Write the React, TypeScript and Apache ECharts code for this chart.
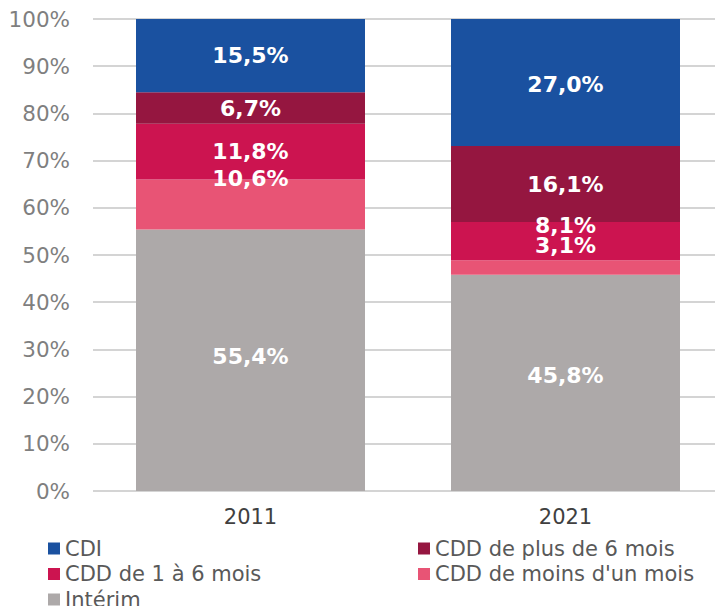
import React, { useEffect, useRef } from "react";
import * as echarts from "echarts";

const categories = ["2011", "2021"];
const seriesNames = [
  "Intérim",
  "CDD de moins d'un mois",
  "CDD de 1 à 6 mois",
  "CDD de plus de 6 mois",
  "CDI",
];
const interim = [55.4, 45.8];
const cddMoinsUnMois = [10.6, 3.1];
const cdd1a6 = [11.8, 8.1];
const cddPlus6 = [6.7, 16.1];
const cdi = [15.5, 27.0];
const yTicks = [0, 10, 20, 30, 40, 50, 60, 70, 80, 90, 100];
const legendCol1 = ["CDI", "CDD de 1 à 6 mois", "Intérim"];
const legendCol2 = ["CDD de plus de 6 mois", "CDD de moins d'un mois"];

const seriesValues = [interim, cddMoinsUnMois, cdd1a6, cddPlus6, cdi];
const colors = ["#ADA9A9", "#E85475", "#CC1450", "#951640", "#1A51A0"];
// label vertical offsets (px) per series, per category
const labelOffsets = [
  [-4, -7],
  [-26, -22],
  [0, -16],
  [1, 1],
  [0, 2],
];

const FONT = "DejaVu Sans";

const legendBase = {
  orient: "vertical",
  top: 538,
  height: 90,
  padding: 0,
  icon: "rect",
  itemWidth: 12,
  itemHeight: 12,
  itemGap: 4.5,
  textStyle: {
    color: "#595959",
    fontFamily: FONT,
    fontSize: 21,
    lineHeight: 18,
  },
};

export default function App() {
  const ref = useRef<HTMLDivElement>(null);
  useEffect(() => {
    const chart = echarts.init(ref.current!, undefined, { renderer: "svg" });
    const series = seriesNames.map((name, si) => ({
      name,
      type: "bar",
      stack: "total",
      barWidth: 229,
      itemStyle: { color: colors[si] },
      data: seriesValues[si].map((v, ci) => ({
        value: v,
        label: { offset: [0, labelOffsets[si][ci]] },
      })),
      label: {
        show: true,
        position: "inside",
        color: "#ffffff",
        fontWeight: "bold",
        fontFamily: FONT,
        fontSize: 22,
        formatter: (p: any) => p.value.toFixed(1).replace(".", ",") + "%",
      },
    }));
    chart.setOption({
      animation: false,
      backgroundColor: "#ffffff",
      grid: { left: 93, right: 0, top: 19, bottom: 123, containLabel: false },
      xAxis: {
        type: "category",
        data: categories,
        axisLine: { show: false },
        axisTick: { show: false },
        axisLabel: {
          color: "#404040",
          fontFamily: FONT,
          fontSize: 21,
          margin: 15,
        },
      },
      yAxis: {
        type: "value",
        min: 0,
        max: 100,
        interval: 10,
        axisLine: { show: false },
        axisTick: { show: false },
        splitLine: { lineStyle: { color: "#d4d4d4", width: 2 } },
        axisLabel: {
          color: "#7f7f7f",
          fontFamily: FONT,
          fontSize: 21.5,
          margin: 23,
          formatter: (v: number) => (yTicks.includes(v) ? v + "%" : ""),
        },
      },
      legend: [
        { ...legendBase, left: 48, data: legendCol1 },
        { ...legendBase, left: 418, data: legendCol2 },
      ],
      series,
    });
    return () => chart.dispose();
  }, []);
  return <div ref={ref} style={{ width: 723, height: 614, margin: -8 }} />;
}
